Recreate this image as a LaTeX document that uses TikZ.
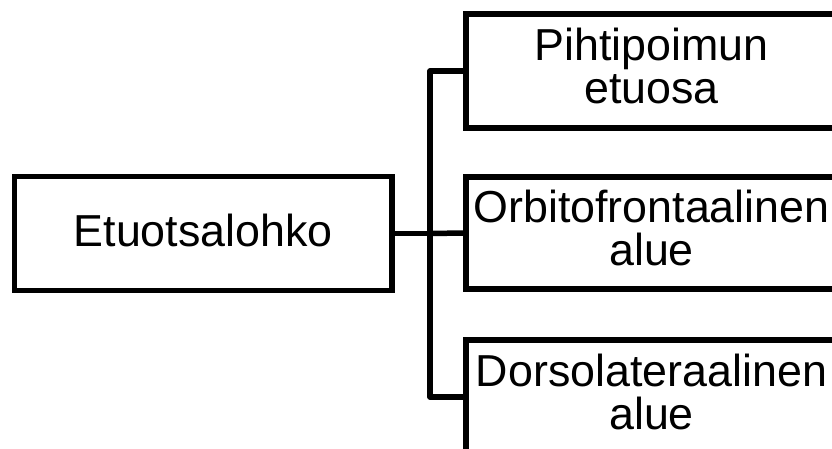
\documentclass[tikz,border=0pt]{standalone}
\usepackage{fontspec}
\setmainfont{Liberation Sans}
% extra depth under the last line lifts the text block inside its box
\newcommand{\liftpad}[1]{\rule[-#1pt]{0pt}{0pt}}
\begin{document}
\begin{tikzpicture}[x=1pt,y=-1pt,
  box/.style={draw=black, line width=5.5pt, fill=white, rectangle,
    inner sep=0pt, align=center, font=\fontsize{44.8}{43}\selectfont},
  leaf/.style={box, minimum width=371pt, minimum height=114pt},
  wire/.style={draw=black, line width=5.5pt, line join=round}]
\useasboundingbox (0,0) rectangle (832,448);
\clip (0,0) rectangle (832,448);

% root box
\node[box, minimum width=377.5pt, minimum height=114pt] (root) at (203.25,233.5)
  {Etuotsalohko\liftpad{7}};

% three branch boxes
\node[leaf] (a) at (651.5,71) {Pihtipoimun\\etuosa\liftpad{11}};
\node[leaf, minimum height=112pt] (b) at (651.5,233) {Orbitofrontaalinen\\alue\liftpad{11}};
\node[leaf] (c) at (651.5,397) {Dorsolateraalinen\\alue\liftpad{11}};

% junction on the vertical bus
\coordinate (j) at (430,233.5);

% connectors
\draw[wire] (a.west) -| (j) |- (c.west);
\draw[wire] (root.east) -- (j);
\draw[wire] (j) -- (b.west);
\end{tikzpicture}
\end{document}
